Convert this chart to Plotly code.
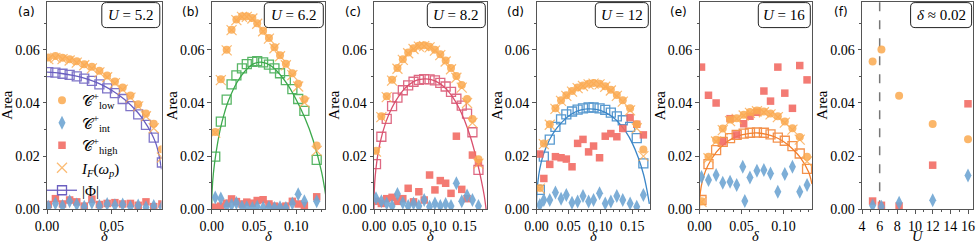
import plotly.graph_objects as go

W, H = 977, 244

# ---------------- data ----------------
# panel (a)  U = 5.2
delta_a = [0.001, 0.0065, 0.012, 0.0175, 0.023, 0.0288, 0.0347, 0.0405, 0.0465, 0.0525, 0.0585, 0.0645, 0.0705, 0.0765, 0.0825, 0.0888]
low_a = [0.0571, 0.0577, 0.0570, 0.0565, 0.0557, 0.0546, 0.0536, 0.0521, 0.0503, 0.0481, 0.0458, 0.0428, 0.0395, 0.0360, 0.0322, 0.0226]
if_a = [0.0565, 0.0570, 0.0565, 0.0560, 0.0552, 0.0542, 0.0530, 0.0515, 0.0497, 0.0475, 0.0450, 0.0420, 0.0387, 0.0350, 0.0305, 0.0195]
phi_a = [0.0516, 0.0514, 0.0510, 0.0506, 0.0500, 0.0492, 0.0483, 0.0470, 0.0455, 0.0437, 0.0415, 0.0388, 0.0357, 0.0318, 0.0270, 0.0176]
high_a = [0.0018, 0.0040, 0.0020, 0.0035, 0.0028, 0.0012, 0.0038, 0.0018, 0.0022, 0.0025, 0.0020, 0.0022, 0.0015, 0.0028, 0.0010, 0.0020]
int_a = [0.0010, 0.0022, 0.0012, 0.0030, 0.0018, 0.0010, 0.0025, 0.0012, 0.0020, 0.0015, 0.0018, 0.0010, 0.0014, 0.0008, 0.0012, 0.0008]
fitd_a = [0.0, 0.01, 0.02, 0.03, 0.04, 0.05, 0.06, 0.07, 0.075, 0.08, 0.084, 0.0865, 0.0885]
fitv_a = [0.0516, 0.0512, 0.0504, 0.0492, 0.0474, 0.0448, 0.0413, 0.0365, 0.0333, 0.0293, 0.0250, 0.0205, 0.0150]

# panel (b)  U = 6.2
delta_b = [0.0042, 0.0108, 0.0177, 0.0235, 0.0292, 0.0358, 0.0415, 0.0481, 0.0538, 0.0608, 0.0677, 0.0742, 0.0808, 0.0877, 0.0954, 0.1023, 0.1096, 0.1242]
low_b = [0.0291, 0.0489, 0.0600, 0.0676, 0.0714, 0.0726, 0.0726, 0.0720, 0.0700, 0.0672, 0.0645, 0.0610, 0.0580, 0.0548, 0.0512, 0.0472, 0.0414, 0.0240]
if_b = [0.0288, 0.0486, 0.0598, 0.0674, 0.0712, 0.0724, 0.0724, 0.0718, 0.0698, 0.0670, 0.0642, 0.0606, 0.0576, 0.0542, 0.0505, 0.0462, 0.0402, 0.0220]
phi_b = [0.0198, 0.0330, 0.0413, 0.0470, 0.0504, 0.0530, 0.0546, 0.0555, 0.0557, 0.0553, 0.0544, 0.0530, 0.0512, 0.0486, 0.0452, 0.0415, 0.0370, 0.0186]
high_b = [0.0008, 0.0012, 0.0023, 0.0039, 0.0029, 0.0020, 0.0027, 0.0023, 0.0033, 0.0036, 0.0020, 0.0012, 0.0008, 0.0012, 0.0030, 0.0020, 0.0014, 0.0047]
int_b = [0.0044, 0.0041, 0.0012, 0.0016, 0.0024, 0.0010, 0.0008, 0.0005, 0.0010, 0.0006, 0.0008, 0.0005, 0.0008, 0.0005, 0.0022, 0.0057, 0.0030, 0.0030]
fitd_b = [0.0, 0.0005, 0.002, 0.005, 0.01, 0.015, 0.02, 0.03, 0.04, 0.05, 0.06, 0.07, 0.08, 0.09, 0.10, 0.11, 0.12, 0.13, 0.135]
fitv_b = [0.0, 0.0070, 0.0135, 0.0210, 0.0300, 0.0362, 0.0410, 0.0478, 0.0522, 0.0548, 0.0553, 0.0540, 0.0510, 0.0468, 0.0412, 0.0345, 0.0260, 0.0140, 0.0050]

# panel (c)  U = 8.2
delta_c = [0.0033, 0.0122, 0.0211, 0.0300, 0.0389, 0.0478, 0.0567, 0.0656, 0.0744, 0.0833, 0.0922, 0.1011, 0.1100, 0.1189, 0.1278, 0.1367, 0.1456, 0.1544, 0.1633, 0.1733]
low_c = [0.0220, 0.0350, 0.0425, 0.0487, 0.0532, 0.0565, 0.0590, 0.0606, 0.0615, 0.0617, 0.0612, 0.0600, 0.0583, 0.0560, 0.0532, 0.0502, 0.0468, 0.0415, 0.0340, 0.0188]
if_c = [0.0217, 0.0347, 0.0422, 0.0484, 0.0529, 0.0562, 0.0587, 0.0603, 0.0612, 0.0614, 0.0609, 0.0597, 0.0580, 0.0556, 0.0527, 0.0495, 0.0458, 0.0400, 0.0325, 0.0172]
phi_c = [0.0170, 0.0273, 0.0340, 0.0388, 0.0420, 0.0448, 0.0466, 0.0480, 0.0487, 0.0490, 0.0489, 0.0485, 0.0476, 0.0462, 0.0442, 0.0416, 0.0390, 0.0360, 0.0290, 0.0148]
high_c = [0.0030, 0.0022, 0.0040, 0.0045, 0.0030, 0.0040, 0.0079, 0.0028, 0.0066, 0.0035, 0.0129, 0.0073, 0.0108, 0.0098, 0.0060, 0.0275, 0.0075, 0.0040, 0.0204, 0.0175]
int_c = [0.0042, 0.0030, 0.0022, 0.0012, 0.0058, 0.0025, 0.0012, 0.0022, 0.0012, 0.0035, 0.0010, 0.0022, 0.0012, 0.0020, 0.0012, 0.0098, 0.0030, 0.0052, 0.0035, 0.0012]
fitd_c = [0.0, 0.0005, 0.002, 0.005, 0.01, 0.02, 0.03, 0.04, 0.05, 0.06, 0.07, 0.08, 0.09, 0.10, 0.11, 0.12, 0.13, 0.14, 0.15, 0.16, 0.17, 0.178, 0.183, 0.186]
fitv_c = [0.0, 0.0070, 0.0125, 0.0185, 0.0250, 0.0330, 0.0383, 0.0422, 0.0452, 0.0472, 0.0485, 0.0490, 0.0490, 0.0484, 0.0472, 0.0452, 0.0424, 0.0386, 0.0336, 0.0272, 0.0190, 0.0110, 0.0050, 0.0]

# panel (d)  U = 12
delta_d = [0.0052, 0.0115, 0.0208, 0.0297, 0.0385, 0.0468, 0.0557, 0.0645, 0.0729, 0.0817, 0.0895, 0.0989, 0.1078, 0.1166, 0.1260, 0.1353, 0.1468, 0.1572, 0.1676]
low_d = [0.0080, 0.0248, 0.0320, 0.0380, 0.0410, 0.0429, 0.0445, 0.0458, 0.0466, 0.0472, 0.0475, 0.0472, 0.0463, 0.0450, 0.0430, 0.0410, 0.0380, 0.0320, 0.0225]
if_d = [0.0078, 0.0245, 0.0318, 0.0378, 0.0408, 0.0427, 0.0443, 0.0456, 0.0464, 0.0470, 0.0473, 0.0470, 0.0461, 0.0447, 0.0427, 0.0405, 0.0372, 0.0305, 0.0200]
phi_d = [0.0073, 0.0198, 0.0262, 0.0310, 0.0338, 0.0357, 0.0368, 0.0375, 0.0380, 0.0383, 0.0383, 0.0380, 0.0374, 0.0364, 0.0350, 0.0335, 0.0310, 0.0268, 0.0173]
high_d = [0.0208, 0.0116, 0.0169, 0.0198, 0.0194, 0.0189, 0.0160, 0.0248, 0.0263, 0.0216, 0.0238, 0.0194, 0.0275, 0.0285, 0.0273, 0.0304, 0.0345, 0.0320, 0.0280]
int_d = [0.0016, 0.0035, 0.0035, 0.0063, 0.0040, 0.0054, 0.0025, 0.0029, 0.0050, 0.0029, 0.0035, 0.0060, 0.0022, 0.0029, 0.0050, 0.0035, 0.0022, 0.0010, 0.0054]
fitd_d = [0.0, 0.0005, 0.002, 0.005, 0.01, 0.02, 0.03, 0.04, 0.05, 0.06, 0.07, 0.08, 0.09, 0.10, 0.11, 0.12, 0.13, 0.14, 0.15, 0.16, 0.168, 0.173, 0.177]
fitv_d = [0.0, 0.0055, 0.0100, 0.0150, 0.0200, 0.0260, 0.0300, 0.0328, 0.0350, 0.0365, 0.0374, 0.0378, 0.0377, 0.0372, 0.0362, 0.0346, 0.0323, 0.0292, 0.0250, 0.0192, 0.0130, 0.0075, 0.0020]

# panel (e)  U = 16
delta_e = [0.0024, 0.0107, 0.0198, 0.0277, 0.0364, 0.0443, 0.0526, 0.0601, 0.0684, 0.0767, 0.0846, 0.0933, 0.1016, 0.1107, 0.1194, 0.1281]
low_e = [0.0030, 0.0198, 0.0262, 0.0304, 0.0338, 0.0343, 0.0356, 0.0366, 0.0372, 0.0368, 0.0360, 0.0350, 0.0330, 0.0305, 0.0272, 0.0198]
if_e = [0.0028, 0.0192, 0.0255, 0.0298, 0.0332, 0.0340, 0.0353, 0.0363, 0.0369, 0.0365, 0.0357, 0.0347, 0.0326, 0.0300, 0.0262, 0.0180]
phi_e = [0.0035, 0.0170, 0.0223, 0.0254, 0.0268, 0.0280, 0.0285, 0.0288, 0.0289, 0.0288, 0.0282, 0.0270, 0.0258, 0.0238, 0.0210, 0.0152]
high_e = [0.0535, 0.0429, 0.0400, 0.0254, 0.0341, 0.0280, 0.0322, 0.0350, 0.0365, 0.0445, 0.0407, 0.0535, 0.0437, 0.0380, 0.0541, 0.0487]
dint_e = [0.0024, 0.0107, 0.0198, 0.0277, 0.0364, 0.0443, 0.0515, 0.0540, 0.0601, 0.0684, 0.0767, 0.0846, 0.0933, 0.1016, 0.1107, 0.1194, 0.1281]
int_e = [0.0122, 0.0110, 0.0129, 0.0100, 0.0104, 0.0091, 0.0160, 0.0031, 0.0120, 0.0145, 0.0148, 0.0135, 0.0066, 0.0133, 0.0160, 0.0066, 0.0091]
fitd_e = [0.0, 0.0005, 0.002, 0.005, 0.01, 0.02, 0.03, 0.04, 0.05, 0.06, 0.07, 0.08, 0.09, 0.10, 0.11, 0.12, 0.13, 0.134]
fitv_e = [0.0, 0.0045, 0.0085, 0.0125, 0.0165, 0.0215, 0.0248, 0.0268, 0.0280, 0.0286, 0.0287, 0.0282, 0.0272, 0.0255, 0.0230, 0.0195, 0.0140, 0.0095]

# panel (f)  delta ~ 0.02
U_f = [5.2, 6.2, 8.2, 12, 16]
low_f = [0.0556, 0.0601, 0.0427, 0.0321, 0.0264]
high_f = [0.0031, 0.0015, 0.0012, 0.0166, 0.0397]
int_f = [0.0014, 0.0010, 0.0025, 0.0034, 0.0127]
U_crit = 6.0

box_texts = ['<i>U</i> = 5.2', '<i>U</i> = 6.2', '<i>U</i> = 8.2', '<i>U</i> = 12', '<i>U</i> = 16', '<i>δ</i> ≈ 0.02']
panel_tags = ['(a)', '(b)', '(c)', '(d)', '(e)', '(f)']
x_titles = ['<i>δ</i>', '<i>δ</i>', '<i>δ</i>', '<i>δ</i>', '<i>δ</i>', '<i>U</i>']
y_title = 'Area'

# ---------------- style ----------------
ORANGE = '#FBAA50'
BLUE = '#6FA6D3'
RED = '#F26D65'
PHI_COLORS = ['#6B5FC0', '#3DAA4D', '#D9506E', '#3D88C8', '#F28030']
SERIF = 'Liberation Serif'
AX = '#555555'

LEFTS = [47, 211.7, 374, 536.5, 699.5, 862]
WIDTHS = [114.5, 113.3, 113, 113.5, 112.5, 111.3]
TOP, BOT = 2.0, 209.3
XRANGES = [[0, 0.0885], [0, 0.134], [0, 0.1875], [0, 0.178], [0, 0.134], [4, 16.6]]
BOXW = [58, 59, 58, 53, 52, 61]

fig = go.Figure()

series = [
    (delta_a, low_a, if_a, phi_a, high_a, delta_a, int_a, fitd_a, fitv_a),
    (delta_b, low_b, if_b, phi_b, high_b, delta_b, int_b, fitd_b, fitv_b),
    (delta_c, low_c, if_c, phi_c, high_c, delta_c, int_c, fitd_c, fitv_c),
    (delta_d, low_d, if_d, phi_d, high_d, delta_d, int_d, fitd_d, fitv_d),
    (delta_e, low_e, if_e, phi_e, high_e, dint_e, int_e, fitd_e, fitv_e),
]

def axn(i):
    return ('x' if i == 0 else f'x{i+1}'), ('y' if i == 0 else f'y{i+1}')

low_name = '𝒞<sup>+</sup><sub>low</sub>'
int_name = '𝒞<sup>+</sup><sub>int</sub>'
high_name = '𝒞<sup>+</sup><sub>high</sub>'
if_name = '<i>I</i><sub><i>F</i></sub>(<i>ω</i><sub><i>p</i></sub>)'
phi_name = '|Φ|'

for i, (d, lo, IF, phi, hi, dint, it, fd, fv) in enumerate(series):
    xa, ya = axn(i)
    col = PHI_COLORS[i]
    show = (i == 0)
    fig.add_trace(go.Scatter(x=fd, y=fv, mode='lines', line=dict(color=col, width=1.3, shape='spline', smoothing=0.8),
                             xaxis=xa, yaxis=ya, showlegend=False, hoverinfo='skip'))
    fig.add_trace(go.Scatter(x=d, y=phi, mode='markers', xaxis=xa, yaxis=ya, showlegend=False, opacity=0.85,
                             marker=dict(symbol='square-open', size=9, color=col, line=dict(width=1.3, color=col))))
    fig.add_trace(go.Scatter(x=d, y=hi, mode='markers', xaxis=xa, yaxis=ya, name=high_name, showlegend=show, legendrank=3,
                             opacity=0.9, marker=dict(symbol='square', size=7.5, color=RED)))
    fig.add_trace(go.Scatter(x=dint, y=it, mode='markers', xaxis=xa, yaxis=ya, name=int_name, showlegend=show, legendrank=2,
                             opacity=0.9, marker=dict(symbol='diamond-tall', size=10, color=BLUE)))
    fig.add_trace(go.Scatter(x=d, y=IF, mode='markers', xaxis=xa, yaxis=ya, name=if_name, showlegend=show, legendrank=4,
                             opacity=0.8, marker=dict(symbol='x-thin-open', size=10, color=ORANGE, line=dict(width=1.2, color=ORANGE))))
    fig.add_trace(go.Scatter(x=d, y=lo, mode='markers', xaxis=xa, yaxis=ya, name=low_name, showlegend=show, legendrank=1,
                             opacity=0.85, marker=dict(symbol='circle', size=8, color=ORANGE)))

# legend entry for |Phi| (line + square)
fig.add_trace(go.Scatter(x=[None], y=[None], mode='lines+markers', name=phi_name, legendrank=5, xaxis='x', yaxis='y',
                         line=dict(color=PHI_COLORS[0], width=1.3),
                         marker=dict(symbol='square-open', size=9, color=PHI_COLORS[0], line=dict(width=1.3))))

# panel (f)
xa, ya = axn(5)
fig.add_trace(go.Scatter(x=U_f, y=high_f, mode='markers', xaxis=xa, yaxis=ya, showlegend=False, opacity=0.9,
                         marker=dict(symbol='square', size=7.5, color=RED)))
fig.add_trace(go.Scatter(x=U_f, y=int_f, mode='markers', xaxis=xa, yaxis=ya, showlegend=False, opacity=0.9,
                         marker=dict(symbol='diamond-tall', size=10, color=BLUE)))
fig.add_trace(go.Scatter(x=U_f, y=low_f, mode='markers', xaxis=xa, yaxis=ya, showlegend=False, opacity=0.85,
                         marker=dict(symbol='circle', size=8, color=ORANGE)))

layout = dict(width=W, height=H, margin=dict(l=0, r=0, t=0, b=0, autoexpand=False), paper_bgcolor='white', plot_bgcolor='white',
              font=dict(family=SERIF, size=14, color='black'),
              legend=dict(x=42 / W, y=1 - 84 / H, xanchor='left', yanchor='top', bgcolor='rgba(0,0,0,0)',
                          font=dict(family=SERIF, size=15), tracegroupgap=0, itemwidth=30))

shapes = []
annotations = []
ydom = [1 - BOT / H, 1 - TOP / H]
hpx = BOT - TOP
for i in range(6):
    xa, ya = axn(i)
    xk = 'xaxis' if i == 0 else f'xaxis{i+1}'
    yk = 'yaxis' if i == 0 else f'yaxis{i+1}'
    w = WIDTHS[i]
    is_f = (i == 5)
    layout[xk] = dict(domain=[LEFTS[i] / W, (LEFTS[i] + w) / W], range=XRANGES[i], anchor=ya, automargin=False,
                      showline=True, mirror=True, linecolor=AX, linewidth=1, showgrid=False, zeroline=False,
                      ticks='outside', ticklen=3.5, tickwidth=1, tickcolor=AX,
                      tick0=4 if is_f else 0, dtick=2 if is_f else 0.05,
                      tickformat='d' if is_f else '.2f',
                      minor=dict(ticks='outside', ticklen=2, tickwidth=0.8, tickcolor=AX, dtick=1 if is_f else 0.01, showgrid=False),
                      tickfont=dict(family=SERIF, size=14, color='black'))
    layout[yk] = dict(domain=ydom, range=[0, 0.078], anchor=xa, automargin=False,
                      showline=True, mirror=True, linecolor=AX, linewidth=1, showgrid=False, zeroline=False,
                      ticks='outside', ticklen=3.5, tickwidth=1, tickcolor=AX,
                      tick0=0, dtick=0.02, tickformat='.2f',
                      minor=dict(ticks='outside', ticklen=2, tickwidth=0.8, tickcolor=AX, dtick=0.01, showgrid=False),
                      tickfont=dict(family=SERIF, size=14, color='black'))
    # axis titles
    annotations.append(dict(text=x_titles[i], xref='paper', yref='paper', x=(LEFTS[i] + w / 2) / W, y=1 - 235.5 / H,
                            showarrow=False, xanchor='center', yanchor='middle', font=dict(family=SERIF, size=14.5, color='black')))
    annotations.append(dict(text=y_title, xref='paper', yref='paper', x=(LEFTS[i] - 40) / W, y=1 - (TOP + BOT) / 2 / H,
                            textangle=-90, showarrow=False, xanchor='center', yanchor='middle',
                            font=dict(family=SERIF, size=15, color='black')))
    # rounded label box
    x1 = 1 - 1.7 / w
    x0 = x1 - BOXW[i] / w
    y1 = 1 - 0.6 / hpx
    y0 = y1 - 25 / hpx
    rx, ry = 4.5 / w, 4.5 / hpx
    path = (f'M {x0+rx},{y1} L {x1-rx},{y1} Q {x1},{y1} {x1},{y1-ry} L {x1},{y0+ry} Q {x1},{y0} {x1-rx},{y0} '
            f'L {x0+rx},{y0} Q {x0},{y0} {x0},{y0+ry} L {x0},{y1-ry} Q {x0},{y1} {x0+rx},{y1} Z')
    shapes.append(dict(type='path', xref=f'{xa} domain', yref=f'{ya} domain', path=path,
                       line=dict(color='#222222', width=1), fillcolor='white', layer='above'))
    annotations.append(dict(text=box_texts[i], xref=f'{xa} domain', yref=f'{ya} domain', x=(x0 + x1) / 2, y=(y0 + y1) / 2,
                            showarrow=False, xanchor='center', yanchor='middle', font=dict(family=SERIF, size=15, color='black')))
    annotations.append(dict(text=panel_tags[i], xref='paper', yref='paper', x=(LEFTS[i] - 21) / W, y=1 - 12 / H,
                            showarrow=False, xanchor='center', yanchor='middle', font=dict(family='DejaVu Sans', size=12, color='black')))

xa, ya = axn(5)
shapes.append(dict(type='line', xref=xa, yref=f'{ya} domain', x0=U_crit, x1=U_crit, y0=0, y1=1,
                   line=dict(color='#777777', width=1.5, dash='dash'), layer='below'))

layout['shapes'] = shapes
layout['annotations'] = annotations
fig.update_layout(**layout)

fig.write_html('out.html', config={'displayModeBar': False},
               post_script="document.body.style.margin='0';document.body.style.padding='0';")
